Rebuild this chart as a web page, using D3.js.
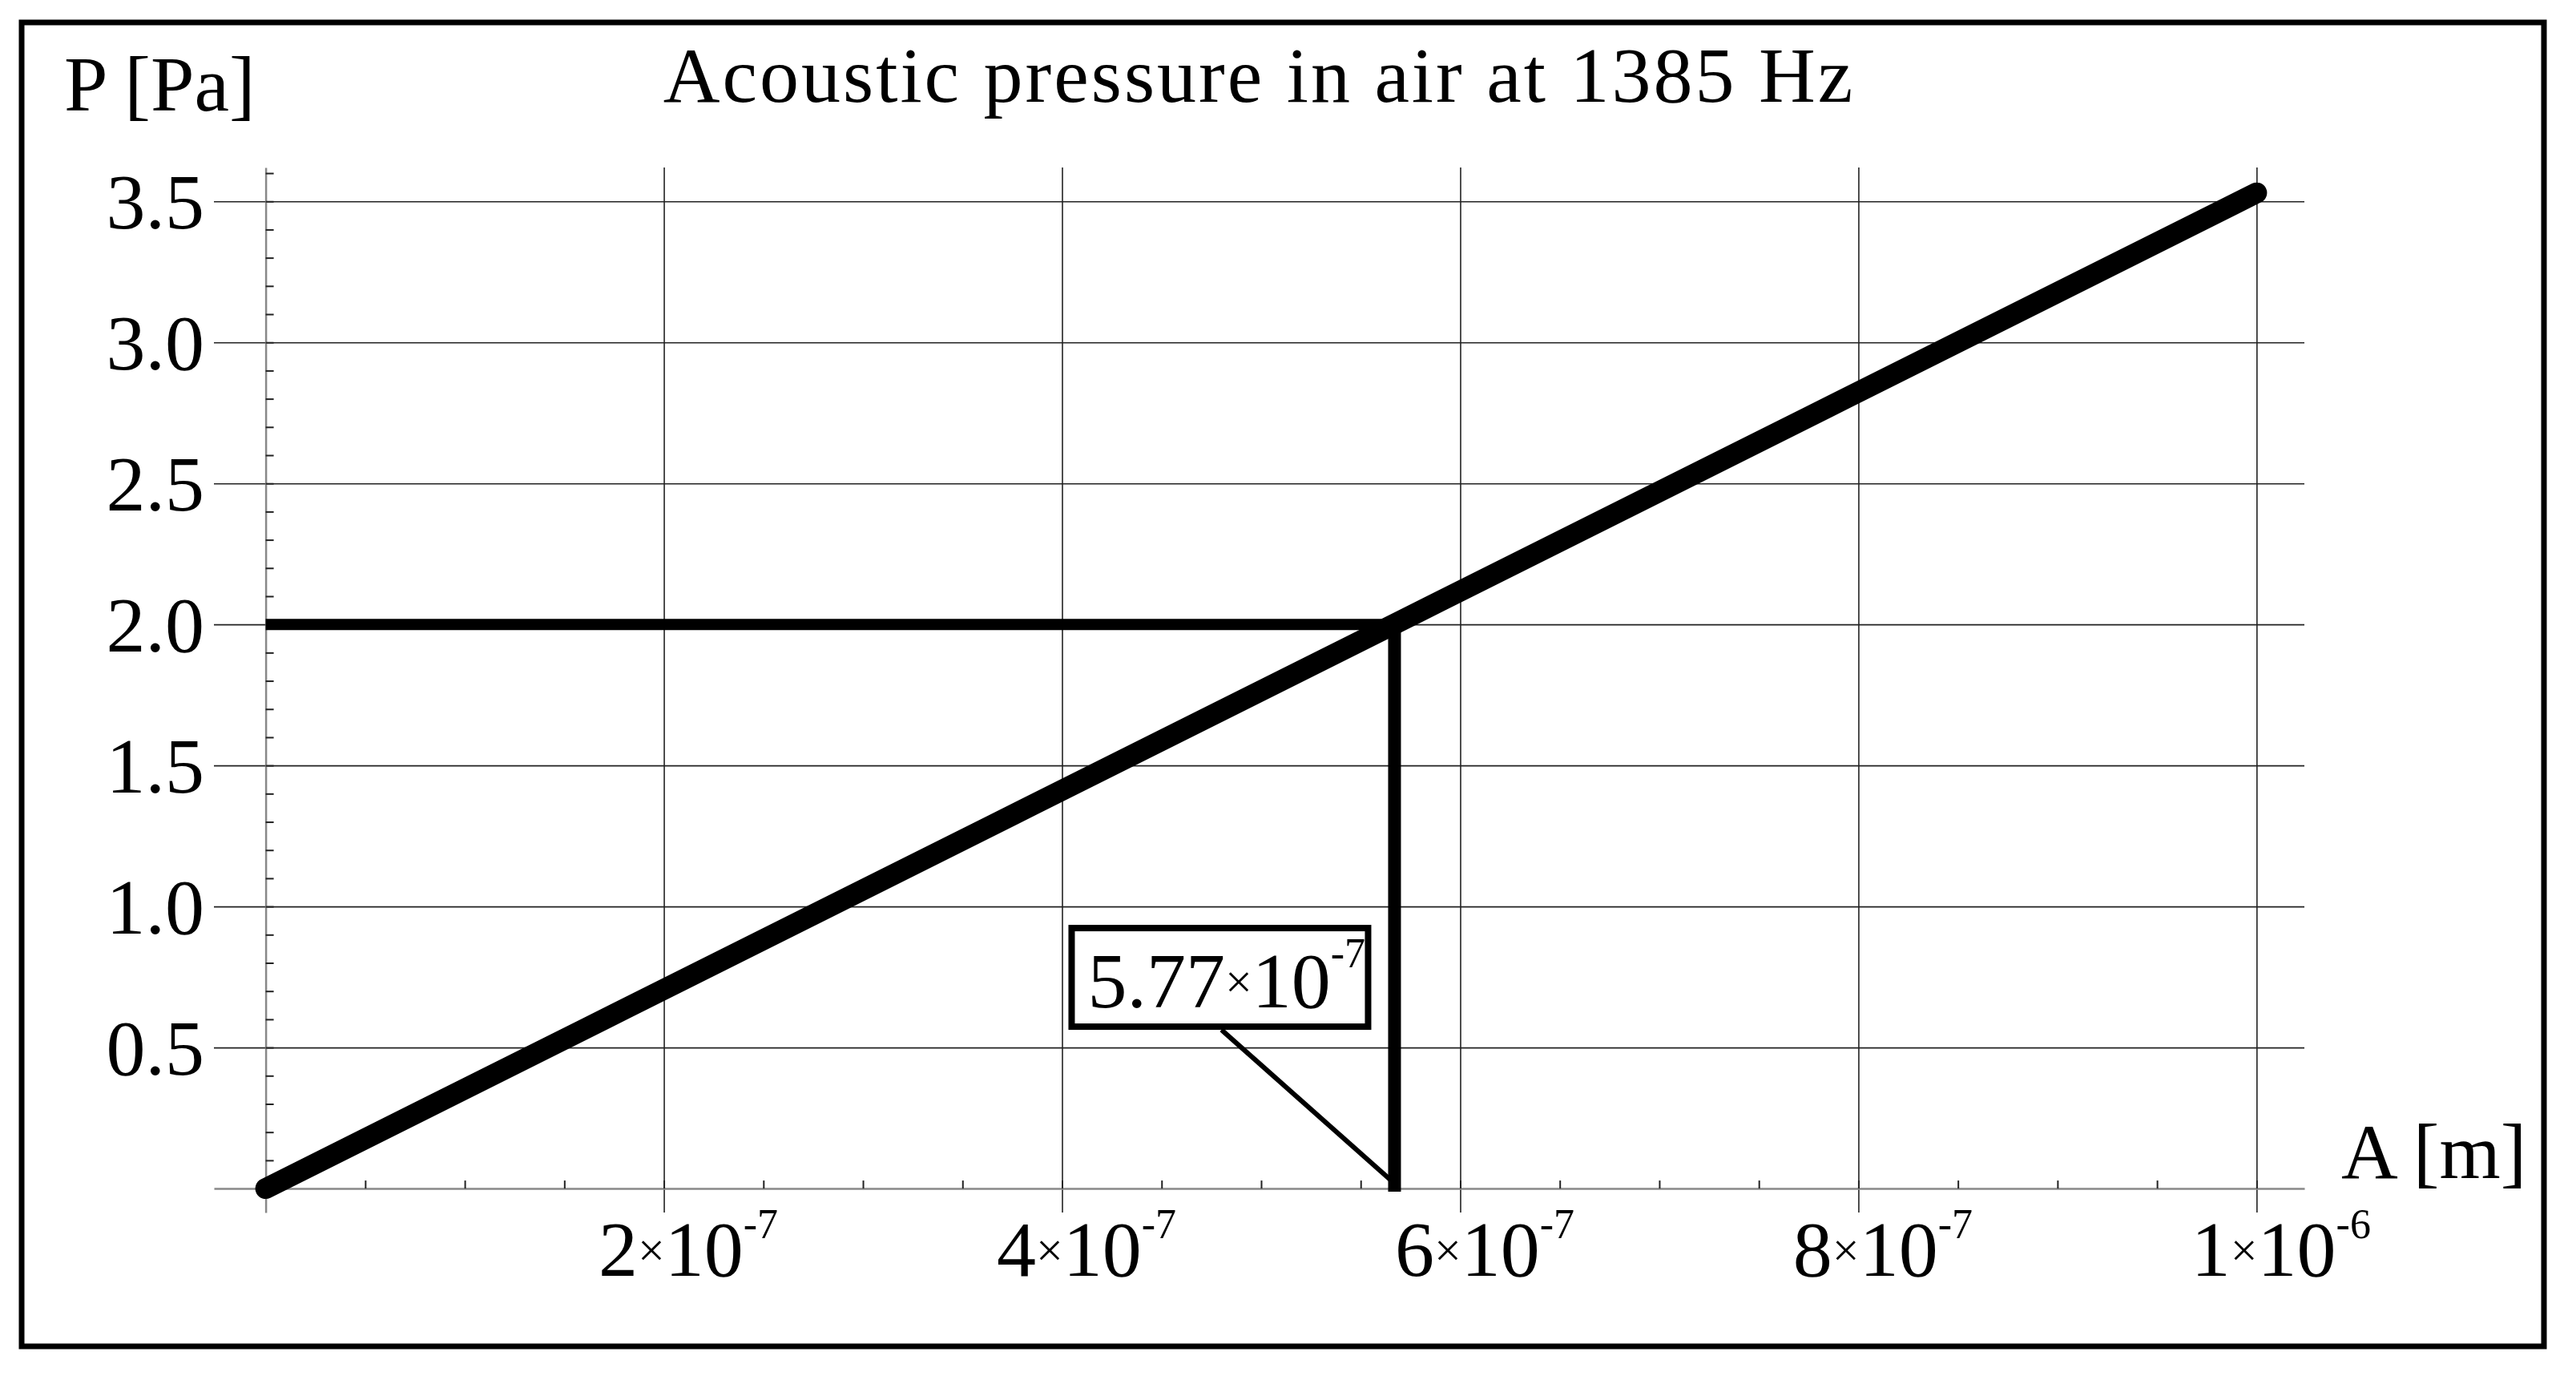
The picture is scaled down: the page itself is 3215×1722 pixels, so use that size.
<!DOCTYPE html>
<html>
<head>
<meta charset="utf-8">
<script src="https://cdn.jsdelivr.net/npm/d3@7"></script>
<style>
  body { margin: 0; background: #fff; }
  svg { display: block; }
  text { font-family: "Liberation Serif", "Times New Roman", serif; fill: #000; }
</style>
</head>
<body>
<svg id="chart"></svg>
<script>
// data
const ampValues = [0, 1e-6];          // A [m]
const presValues = [0, 3.53];         // P [Pa]
const yTicks = [0.5, 1.0, 1.5, 2.0, 2.5, 3.0, 3.5];
const xTicks = [2e-7, 4e-7, 6e-7, 8e-7, 1e-6];
const xTickMant = ["2", "4", "6", "8", "1"];
const xTickExp = ["-7", "-7", "-7", "-7", "-6"];
const markA = 5.67e-7, markP = 2.0;
const markMant = "5.77", markExp = "-7";

let width = 3215,
    height = 1722,
    fontBig = 98,
    fontSup = 52,
    fontTimes = 60;

let svg = d3.select("#chart").attr("width", width).attr("height", height);

// plot window (view extents in data units)
let x = d3.scaleLinear().domain([-2.6e-8, 1.024e-6]).range([267, 2876]);
let y = d3.scaleLinear().domain([-0.085, 3.62]).range([1513, 209]);

let plotW = x.range()[1] - x.range()[0],
    plotH = y.range()[0] - y.range()[1];

// outer frame
svg.append("rect")
    .attr("x", 27).attr("y", 28)
    .attr("width", 3148).attr("height", 1652)
    .attr("fill", "none").attr("stroke", "#000").attr("stroke-width", 7);

// horizontal grid + y labels
let gy = svg.append("g")
    .attr("transform", "translate(" + x.range()[0] + ",0)")
    .call(d3.axisLeft(y).tickValues(yTicks).tickSize(-plotW).tickPadding(12).tickFormat(d3.format(".1f")));
gy.select(".domain").remove();
gy.selectAll(".tick line").attr("stroke", "#222").attr("stroke-width", 1.6);
gy.selectAll(".tick text").attr("font-size", fontBig).attr("dy", "0.34em")
    .style("font-family", "Liberation Serif");

// vertical grid + x labels
let gx = svg.append("g")
    .attr("transform", "translate(0," + y.range()[0] + ")")
    .call(d3.axisBottom(x).tickValues(xTicks).tickSize(-plotH).tickFormat(""));
gx.select(".domain").remove();
gx.selectAll(".tick line").attr("stroke", "#222").attr("stroke-width", 1.6);
gx.selectAll(".tick text").each(function (d, i) {
    let t = d3.select(this)
        .attr("y", 79).attr("dy", null).attr("x", 30)
        .attr("text-anchor", "middle")
        .attr("font-size", fontBig)
        .style("font-family", "Liberation Serif");
    t.append("tspan").text(xTickMant[i]);
    t.append("tspan").attr("font-size", fontTimes).attr("dy", -12).text("×");
    t.append("tspan").attr("dy", 12).text("10");
    t.append("tspan").attr("font-size", fontSup).attr("dy", -47).text(xTickExp[i]);
});

// axes with minor ticks
let minorY = d3.range(1, 37).map(function (i) { return i / 10; });
let minorX = d3.range(1, 21).map(function (i) { return i * 5e-8; });

let ay = svg.append("g")
    .attr("transform", "translate(" + x(0) + ",0)")
    .call(d3.axisRight(y).tickValues(minorY).tickSizeInner(10).tickSizeOuter(0).tickFormat(""));
ay.select(".domain").attr("stroke", "#888").attr("stroke-width", 2.5);
ay.selectAll(".tick line").attr("stroke", "#222").attr("stroke-width", 2);

let ax = svg.append("g")
    .attr("transform", "translate(0," + y(0) + ")")
    .call(d3.axisTop(x).tickValues(minorX).tickSizeInner(10).tickSizeOuter(0).tickFormat(""));
ax.select(".domain").attr("stroke", "#888").attr("stroke-width", 2.5);
ax.selectAll(".tick line").attr("stroke", "#222").attr("stroke-width", 2);

// marker lines at P = 2 Pa
svg.append("line")
    .attr("x1", x(0)).attr("x2", x(markA) + 8)
    .attr("y1", y(markP)).attr("y2", y(markP))
    .attr("stroke", "#000").attr("stroke-width", 14);
svg.append("line")
    .attr("x1", x(markA)).attr("x2", x(markA))
    .attr("y1", y(markP)).attr("y2", y(0) + 4)
    .attr("stroke", "#000").attr("stroke-width", 16);

// main line
let line = d3.line()
    .x(function (d) { return x(d[0]); })
    .y(function (d) { return y(d[1]); });
svg.append("path")
    .datum(d3.zip(ampValues, presValues))
    .attr("d", line)
    .attr("fill", "none").attr("stroke", "#000")
    .attr("stroke-width", 26).attr("stroke-linecap", "round");

// callout box
let ax0 = x(markA), ay0 = y(0);
svg.append("line")
    .attr("x1", ax0 - 216).attr("y1", ay0 - 198)
    .attr("x2", ax0 - 2).attr("y2", ay0 - 8)
    .attr("stroke", "#000").attr("stroke-width", 6);
svg.append("rect")
    .attr("x", ax0 - 403).attr("y", ay0 - 325)
    .attr("width", 370).attr("height", 123)
    .attr("fill", "#fff").attr("stroke", "#000").attr("stroke-width", 8);
let lab = svg.append("text")
    .attr("x", ax0 - 383).attr("y", ay0 - 226)
    .attr("font-size", fontBig);
lab.append("tspan").text(markMant);
lab.append("tspan").attr("font-size", fontTimes).attr("dy", -12).text("×");
lab.append("tspan").attr("dy", 12).text("10");
lab.append("tspan").attr("font-size", fontSup).attr("dy", -50).text(markExp);

// titles
svg.append("text")
    .attr("x", (x.range()[0] + x.range()[1]) / 2).attr("y", 127)
    .attr("text-anchor", "middle")
    .attr("font-size", fontBig).attr("letter-spacing", 3)
    .text("Acoustic pressure in air at 1385 Hz");
svg.append("text")
    .attr("x", 80).attr("y", 138)
    .attr("font-size", fontBig)
    .text("P [Pa]");
svg.append("text")
    .attr("x", 2922).attr("y", 1470)
    .attr("font-size", fontBig)
    .text("A [m]");
</script>
</body>
</html>
